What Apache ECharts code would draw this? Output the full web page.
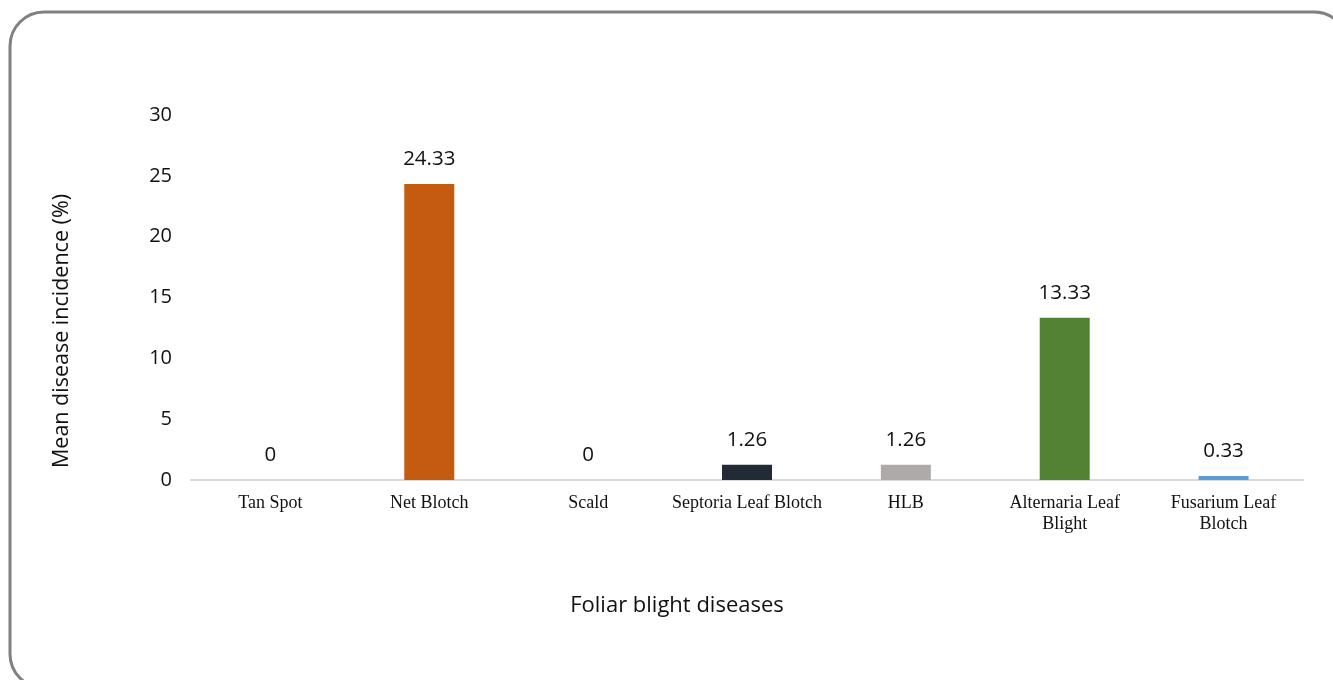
<!DOCTYPE html>
<html>
<head>
<meta charset="utf-8">
<script src="https://cdn.jsdelivr.net/npm/echarts@6/dist/echarts.min.js"></script>
<style>
  html, body { margin: 0; padding: 0; background: #ffffff; }
  #chart { width: 1333px; height: 680px; }
</style>
</head>
<body>
<div id="chart"></div>
<script>
// Foliar blight diseases and their mean incidence (%)
const categories = [
  'Tan Spot',
  'Net Blotch',
  'Scald',
  'Septoria Leaf Blotch',
  'HLB',
  'Alternaria Leaf\nBlight',
  'Fusarium Leaf\nBlotch'
];
const incidence = [0, 24.33, 0, 1.26, 1.26, 13.33, 0.33];
const barColors = ['#4472C4', '#C55A11', '#A5A5A5', '#222A35', '#AEAAAA', '#548235', '#5B9BD5'];
const yTicks = { min: 0, max: 30, interval: 5 };
const xTitle = 'Foliar blight diseases';
const yTitle = 'Mean disease incidence (%)';

const textColor = '#111111';
const chart = echarts.init(document.getElementById('chart'));

chart.setOption({
  backgroundColor: '#ffffff',
  animation: false,
  graphic: [
    {
      type: 'rect',
      shape: { x: 10, y: 12, width: 1338, height: 676, r: 34 },
      style: { fill: 'none', stroke: '#808080', lineWidth: 3 },
      silent: true
    },
    {
      type: 'text',
      x: 677, y: 606,
      style: {
        text: xTitle, fontFamily: 'Open Sans', fontSize: 22,
        fill: textColor, align: 'center', verticalAlign: 'middle'
      },
      silent: true
    },
    {
      type: 'text',
      x: 62, y: 331,
      rotation: Math.PI / 2,
      style: {
        text: yTitle, fontFamily: 'Open Sans', fontSize: 21.5,
        fill: textColor, align: 'center', verticalAlign: 'middle'
      },
      silent: true
    }
  ],
  grid: { left: 191, right: 30, top: 115, bottom: 200 },
  xAxis: {
    type: 'category',
    data: categories,
    axisLine: { lineStyle: { color: '#D9D9D9', width: 2 } },
    axisTick: { show: false },
    axisLabel: {
      interval: 0,
      margin: 13,
      fontFamily: 'Liberation Serif',
      fontSize: 18,
      lineHeight: 21,
      color: textColor
    }
  },
  yAxis: {
    type: 'value',
    min: yTicks.min,
    max: yTicks.max,
    interval: yTicks.interval,
    axisLine: { show: false },
    axisTick: { show: false },
    splitLine: { show: false },
    axisLabel: {
      margin: 19,
      fontFamily: 'Open Sans',
      fontSize: 20,
      color: textColor
    }
  },
  series: [{
    type: 'bar',
    data: incidence.map((v, i) => ({ value: v, itemStyle: { color: barColors[i] } })),
    barWidth: 50,
    label: {
      show: true,
      position: 'top',
      distance: 14,
      fontFamily: 'Open Sans',
      fontSize: 20.5,
      color: textColor,
      formatter: p => String(p.value)
    }
  }]
});
</script>
</body>
</html>
